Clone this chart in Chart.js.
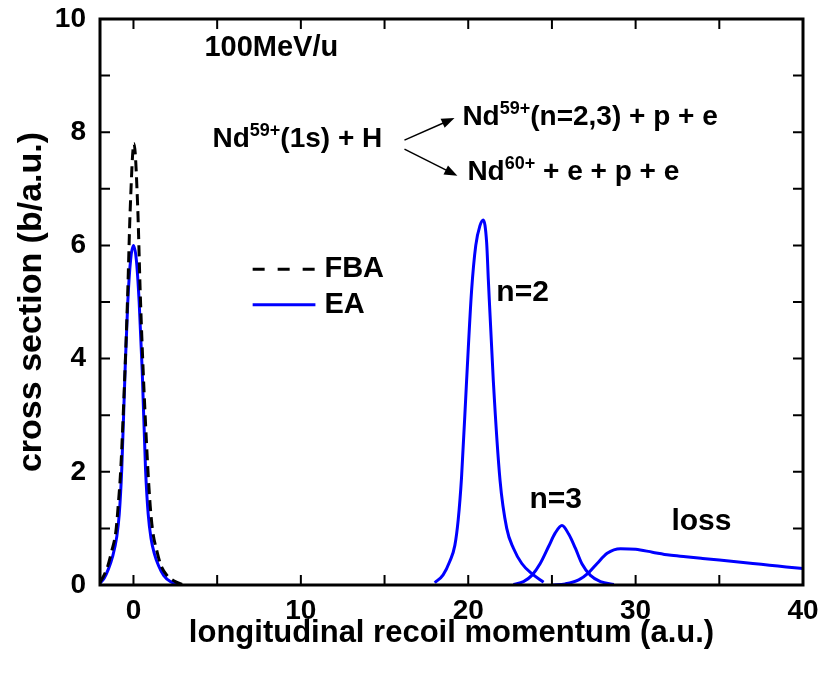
<!DOCTYPE html>
<html>
<head>
<meta charset="utf-8">
<script src="https://cdn.jsdelivr.net/npm/chart.js@4/dist/chart.umd.min.js"></script>
<style>
  html, body { margin: 0; padding: 0; background: #fff; }
  #wrap { width: 821px; height: 674px; }
</style>
</head>
<body>
<div id="wrap"><canvas id="c" width="821" height="674"></canvas></div>
<script>
// Axis ticks
const xTicks = [0, 10, 20, 30, 40];
const xMinor = [5, 15, 25, 35];
const yTicks = [0, 2, 4, 6, 8, 10];
const yMinor = [1, 3, 5, 7, 9];

// FBA, capture peak near zero momentum
const fbaX = [-2, -1.8, -1.55, -1.3, -1.05, -0.9, -0.75, -0.5, -0.35, -0.2, 0.03, 0.25, 0.4, 0.57, 0.85, 1.0, 1.15, 1.4, 1.65, 2.0, 2.5, 3.0];
const fbaY = [0.05, 0.15, 0.32, 0.6, 0.95, 1.45, 2.1, 3.85, 5.1, 6.6, 7.8, 6.7, 5.2, 3.85, 2.1, 1.4, 0.95, 0.6, 0.34, 0.17, 0.06, 0.0];

// EA, capture peak near zero momentum
const eaX = [-2, -1.75, -1.5, -1.25, -1.0, -0.85, -0.7, -0.5, -0.34, -0.17, 0, 0.17, 0.34, 0.52, 0.72, 0.88, 1.05, 1.25, 1.5, 1.8, 2.2, 2.7];
const eaY = [0.03, 0.12, 0.28, 0.5, 0.85, 1.25, 2.05, 3.8, 5.0, 5.75, 6.0, 5.75, 5.0, 3.8, 2.05, 1.25, 0.82, 0.55, 0.34, 0.17, 0.06, 0.01];

// EA, excitation to n=2
const n2X = [18.0, 18.5, 18.9, 19.2, 19.4, 19.6, 19.9, 20.2, 20.45, 20.7, 20.9, 21.1, 21.2, 21.5, 21.9, 22.3, 22.7, 23.2, 23.8, 24.5];
const n2Y = [0.04, 0.18, 0.42, 0.7, 1.15, 1.9, 3.6, 5.2, 6.0, 6.35, 6.45, 6.05, 5.4, 3.6, 1.85, 1.0, 0.65, 0.38, 0.2, 0.05];

// EA, excitation to n=3
const n3X = [22.7, 23.3, 23.8, 24.3, 24.8, 25.2, 25.6, 26.0, 26.4, 26.8, 27.3, 27.9, 28.7];
const n3Y = [0.01, 0.06, 0.17, 0.38, 0.68, 0.92, 1.05, 0.9, 0.65, 0.37, 0.17, 0.06, 0.01];

// EA, projectile electron loss
const lossX = [25.0, 25.8, 26.6, 27.2, 27.7, 28.3, 29.1, 30.0, 31.0, 32.0, 33.0, 34.0, 35.0, 36.0, 37.0, 38.0, 39.0, 40.0];
const lossY = [0.0, 0.02, 0.09, 0.22, 0.38, 0.56, 0.64, 0.63, 0.58, 0.53, 0.5, 0.47, 0.44, 0.41, 0.38, 0.35, 0.32, 0.29];

const FONT = "'Liberation Sans', Arial, Helvetica, sans-serif";
const BLUE = '#0000ff';

const pts = (xs, ys) => xs.map((x, i) => ({ x, y: ys[i] }));

function lineSet(label, xs, ys, color, dash) {
  return {
    label,
    data: pts(xs, ys),
    showLine: true,
    borderColor: color,
    borderWidth: 3,
    borderDash: dash || [],
    pointRadius: 0,
    fill: false,
    cubicInterpolationMode: 'monotone'
  };
}

// Frame with inward ticks on all four sides
const framePlugin = {
  id: 'frame',
  afterDatasetsDraw(chart) {
    const { ctx, chartArea: a, scales: { x, y } } = chart;
    const L = 10;
    ctx.save();
    ctx.strokeStyle = '#000';
    ctx.lineWidth = 2;
    ctx.beginPath();
    for (const v of xTicks.concat(xMinor)) {
      const p = x.getPixelForValue(v);
      ctx.moveTo(p, a.bottom); ctx.lineTo(p, a.bottom - L);
      ctx.moveTo(p, a.top); ctx.lineTo(p, a.top + L);
    }
    for (const v of yTicks.concat(yMinor)) {
      const p = y.getPixelForValue(v);
      ctx.moveTo(a.left, p); ctx.lineTo(a.left + L, p);
      ctx.moveTo(a.right, p); ctx.lineTo(a.right - L, p);
    }
    ctx.stroke();
    ctx.lineWidth = 3;
    ctx.strokeRect(a.left, a.top, a.right - a.left, a.bottom - a.top);
    ctx.restore();
  }
};

// Text with superscripts: parts = [[text, isSup], ...]
function richText(ctx, parts, px, py, size) {
  let cx = px;
  for (const [t, sup] of parts) {
    const s = sup ? Math.round(size * 0.66) : size;
    ctx.font = `bold ${s}px ${FONT}`;
    ctx.fillText(t, cx, sup ? py - size * 0.38 : py);
    cx += ctx.measureText(t).width;
  }
}

function arrow(ctx, x1, y1, x2, y2) {
  const ang = Math.atan2(y2 - y1, x2 - x1);
  const h = 13, w = 5;
  ctx.beginPath();
  ctx.moveTo(x1, y1);
  ctx.lineTo(x2 - h * 0.7 * Math.cos(ang), y2 - h * 0.7 * Math.sin(ang));
  ctx.stroke();
  ctx.beginPath();
  ctx.moveTo(x2, y2);
  ctx.lineTo(x2 - h * Math.cos(ang) + w * Math.sin(ang), y2 - h * Math.sin(ang) - w * Math.cos(ang));
  ctx.lineTo(x2 - h * Math.cos(ang) - w * Math.sin(ang), y2 - h * Math.sin(ang) + w * Math.cos(ang));
  ctx.closePath();
  ctx.fill();
}

// Labels, reaction scheme and legend, placed in data coordinates
const notePlugin = {
  id: 'notes',
  afterDatasetsDraw(chart) {
    const { ctx, scales: { x, y } } = chart;
    const X = v => x.getPixelForValue(v);
    const Y = v => y.getPixelForValue(v);
    ctx.save();
    ctx.fillStyle = '#000';
    ctx.strokeStyle = '#000';
    ctx.textBaseline = 'alphabetic';
    ctx.textAlign = 'left';

    richText(ctx, [['100MeV/u', false]], X(4.24), Y(9.34), 29);
    richText(ctx, [['Nd', false], ['59+', true], ['(1s) + H', false]], X(4.72), Y(7.74), 28);
    richText(ctx, [['Nd', false], ['59+', true], ['(n=2,3) + p + e', false]], X(19.65), Y(8.13), 28);
    richText(ctx, [['Nd', false], ['60+', true], [' + e + p + e', false]], X(19.95), Y(7.16), 28);

    ctx.lineWidth = 1.5;
    arrow(ctx, X(16.19), Y(7.86), X(19.18), Y(8.25));
    arrow(ctx, X(16.19), Y(7.70), X(19.35), Y(7.23));

    richText(ctx, [['n=2', false]], X(21.68), Y(5.02), 30);
    richText(ctx, [['n=3', false]], X(23.66), Y(1.36), 30);
    richText(ctx, [['loss', false]], X(32.14), Y(0.97), 30);

    // legend
    ctx.lineWidth = 3;
    ctx.setLineDash([12, 13]);
    ctx.beginPath();
    ctx.moveTo(X(7.12), Y(5.58)); ctx.lineTo(X(10.87), Y(5.58));
    ctx.stroke();
    ctx.setLineDash([]);
    ctx.strokeStyle = BLUE;
    ctx.beginPath();
    ctx.moveTo(X(7.12), Y(4.95)); ctx.lineTo(X(10.87), Y(4.95));
    ctx.stroke();
    ctx.textBaseline = 'middle';
    ctx.font = `bold 29px ${FONT}`;
    ctx.fillText('FBA', X(11.41), Y(5.58));
    ctx.fillText('EA', X(11.41), Y(4.95));
    ctx.restore();
  }
};

new Chart(document.getElementById('c'), {
  type: 'scatter',
  data: {
    datasets: [
      lineSet('FBA', fbaX, fbaY, '#000', [11, 6]),
      lineSet('EA', eaX, eaY, BLUE),
      lineSet('EA n=2', n2X, n2Y, BLUE),
      lineSet('EA n=3', n3X, n3Y, BLUE),
      lineSet('EA loss', lossX, lossY, BLUE)
    ]
  },
  options: {
    responsive: false,
    devicePixelRatio: 1,
    animation: false,
    layout: { padding: { left: 0, right: 18, top: 19, bottom: 0 } },
    plugins: { legend: { display: false }, tooltip: { enabled: false } },
    scales: {
      x: {
        type: 'linear', min: -2, max: 40,
        afterBuildTicks: s => { s.ticks = xTicks.map(v => ({ value: v })); },
        afterFit: s => { s.height = 89; s.paddingLeft = 0; s.paddingRight = 0; },
        grid: { display: false, drawTicks: false },
        border: { display: false },
        ticks: { color: '#000', padding: 9, maxRotation: 0, font: { family: FONT, size: 28, weight: 'bold' } },
        title: { display: true, text: 'longitudinal recoil momentum (a.u.)', color: '#000',
                 font: { family: FONT, size: 31, weight: 'bold' }, padding: { top: 0, bottom: 22 } }
      },
      y: {
        type: 'linear', min: 0, max: 10,
        afterBuildTicks: s => { s.ticks = yTicks.map(v => ({ value: v })); },
        afterFit: s => { s.width = 100; s.paddingTop = 0; s.paddingBottom = 0; },
        grid: { display: false, drawTicks: false },
        border: { display: false },
        ticks: { color: '#000', padding: 14, font: { family: FONT, size: 28, weight: 'bold' } },
        title: { display: true, text: 'cross section (b/a.u.)', color: '#000',
                 font: { family: FONT, size: 34, weight: 'bold' }, padding: { top: 11, bottom: 0 } }
      }
    }
  },
  plugins: [framePlugin, notePlugin]
});
</script>
</body>
</html>
